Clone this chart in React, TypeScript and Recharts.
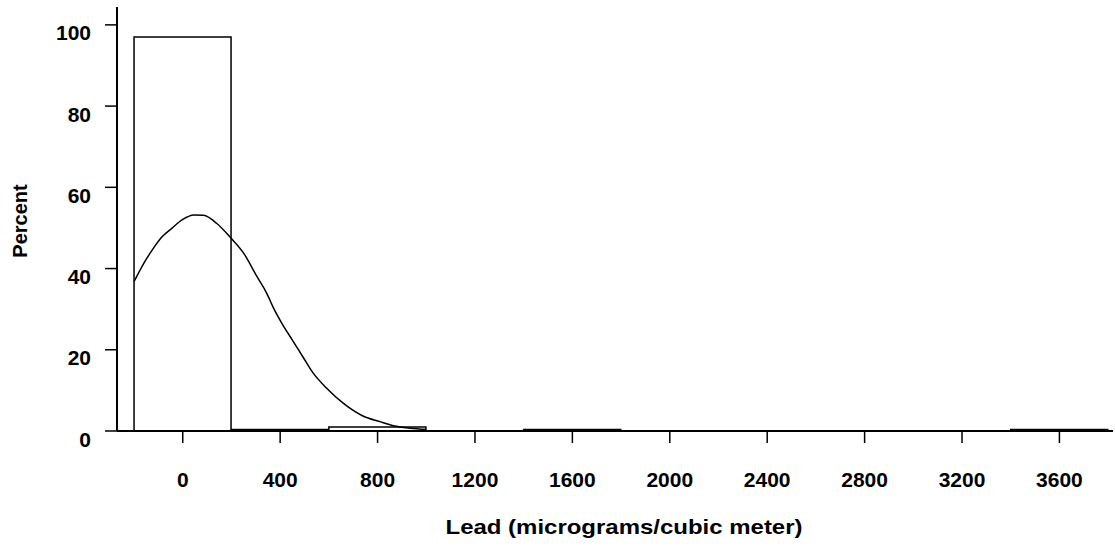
import React from 'react';
import { ComposedChart, Bar, Line, XAxis, YAxis, Label } from 'recharts';

// histogram bins (centre of each 400-wide bin) and their percent
const binCenters = [0, 400, 800, 1200, 1600, 2000, 2400, 2800, 3200, 3600];
const binPercents = [97.0, 0.35, 1.0, 0, 0.35, 0, 0, 0, 0, 0.35];

// fitted density curve
const curveX = [
  -200, -160, -125, -85, -45, 0, 45, 85, 140, 195, 250, 305, 345, 375, 410,
  450, 495, 535, 590, 660, 740, 810, 865, 935, 1000,
];
const curveY = [
  36.8, 41.3, 44.6, 47.8, 49.9, 52.1, 53.2, 53.1, 51.1, 47.7, 43.8, 38.0, 33.9,
  30.0, 26.2, 22.4, 18.1, 14.3, 10.6, 6.8, 3.7, 2.3, 1.3, 0.7, 0.4,
];

const xTicks = [0, 400, 800, 1200, 1600, 2000, 2400, 2800, 3200, 3600];
const yTicks = [0, 20, 40, 60, 80, 100];

const xDomain = [-270, 3820];
const yDomain = [0, 104.4];

const barData = binCenters.map((x, i) => ({ x, pct: binPercents[i] }));
const curveData = curveX.map((x, i) => ({ x, pct: curveY[i] }));

const FONT = '"Liberation Sans", Arial, Helvetica, sans-serif';

const XTick = ({ x, y, payload }: any) => (
  <text x={x} y={y + 42} textAnchor="middle" fontFamily={FONT} fontWeight="bold" fontSize={21} fill="#000">
    {payload.value}
  </text>
);

const YTick = ({ x, y, payload }: any) => (
  <text x={x - 12} y={y + 15.5} textAnchor="end" fontFamily={FONT} fontWeight="bold" fontSize={21} fill="#000">
    {payload.value}
  </text>
);

const XTitle = ({ viewBox }: any) => (
  <text
    x={viewBox.x + viewBox.width / 2 + 9}
    y={534}
    textAnchor="middle"
    fontFamily={FONT}
    fontWeight="bold"
    fontSize={21}
    textLength={357}
    lengthAdjust="spacingAndGlyphs"
    fill="#000"
  >
    Lead (micrograms/cubic meter)
  </text>
);

const YTitle = () => (
  <text
    x={27}
    y={221}
    transform="rotate(-90, 27, 221)"
    textAnchor="middle"
    fontFamily={FONT}
    fontWeight="bold"
    fontSize={20}
    fill="#000"
  >
    Percent
  </text>
);

export default function App() {
  return (
    <div style={{ position: 'absolute', left: 0, top: 0, background: '#fff' }}>
      <ComposedChart
        width={1115}
        height={550}
        data={barData}
        margin={{ top: 7, right: 2, bottom: 0, left: 0 }}
        barCategoryGap={0}
        barGap={0}
      >
        <XAxis
          xAxisId="bins"
          dataKey="x"
          type="number"
          domain={xDomain}
          allowDataOverflow
          height={0}
          hide
        />
        <XAxis
          xAxisId="main"
          dataKey="x"
          type="number"
          domain={xDomain}
          allowDataOverflow
          ticks={xTicks}
          interval={0}
          height={119}
          tickSize={12}
          tickLine={{ stroke: '#000', strokeWidth: 1.5 }}
          axisLine={{ stroke: '#000', strokeWidth: 2 }}
          tick={<XTick />}
        >
          <Label content={<XTitle />} />
        </XAxis>
        <XAxis
          xAxisId="top"
          orientation="top"
          type="number"
          domain={xDomain}
          allowDataOverflow
          height={0}
          tick={false}
          tickLine={false}
          axisLine={{ stroke: '#000', strokeWidth: 2 }}
        />
        <YAxis
          type="number"
          domain={yDomain}
          allowDataOverflow
          ticks={yTicks}
          interval={0}
          width={117}
          tickSize={12}
          tickLine={{ stroke: '#000', strokeWidth: 1.5 }}
          axisLine={{ stroke: '#000', strokeWidth: 2 }}
          tick={<YTick />}
        >
          <Label content={<YTitle />} />
        </YAxis>
        <Bar
          xAxisId="bins"
          dataKey="pct"
          fill="#fff"
          stroke="#000"
          strokeWidth={1.5}
          isAnimationActive={false}
        />
        <Line
          xAxisId="main"
          data={curveData}
          dataKey="pct"
          type="monotone"
          stroke="#000"
          strokeWidth={1.5}
          dot={false}
          activeDot={false}
          isAnimationActive={false}
        />
      </ComposedChart>
    </div>
  );
}
